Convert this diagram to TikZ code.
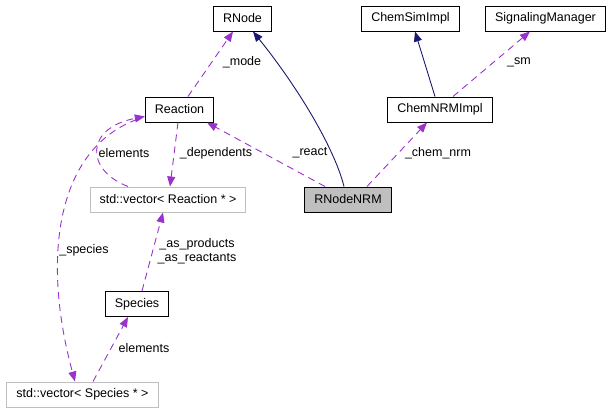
\documentclass[tikz,border=0pt]{standalone}
\usepackage{fontspec}
\setmainfont{Liberation Sans}
\usetikzlibrary{arrows.meta}
\definecolor{edgepurple}{HTML}{9A32CD}
\definecolor{edgenavy}{HTML}{191970}
\definecolor{boxgray}{HTML}{BFBFBF}

\begin{document}
\begin{tikzpicture}[x=1pt,y=-1pt,
  klass/.style={draw=black,line width=1pt,minimum height=25pt,inner xsep=9.5pt,inner ysep=0pt,font=\fontsize{12.5}{14.5}\selectfont},
  tmpl/.style={klass,draw=boxgray},
  usage/.style={draw=edgepurple,line width=0.9pt,dash pattern=on 7pt off 5pt,-{Triangle[length=10pt,width=8pt,fill=edgepurple]}},
  inherit/.style={draw=edgenavy,line width=0.9pt,-{Triangle[length=10pt,width=8pt,fill=edgenavy]}},
  lbl/.style={font=\fontsize{12.5}{14.5}\selectfont,inner sep=0pt,align=center}]
\useasboundingbox (0,0) rectangle (615,413);
\node[klass] (rnode) at (242.5,18.5) {RNode};
\node[klass] (chemsim) at (410.5,18.5) {ChemSimImpl};
\node[klass] (sigman) at (545.5,18.5) {SignalingManager};
\node[klass] (reaction) at (179.5,109.5) {Reaction};
\node[klass] (chemnrm) at (440,109.5) {ChemNRMImpl};
\node[tmpl] (vecreaction) at (168,199.5) {std::vector< Reaction * >};
\node[klass,fill=boxgray] (rnodenrm) at (348,199.5) {RNodeNRM};
\node[klass] (species) at (137,304) {Species};
\node[tmpl] (vecspecies) at (82.5,394.5) {std::vector< Species * >};
\draw[inherit] ([xshift=-4pt]rnodenrm.north) .. controls (335,150) and (300,90) .. ([xshift=10.5pt]rnode.south);
\draw[inherit] ([xshift=-5pt]chemnrm.north) -- ([xshift=4.5pt]chemsim.south);
\draw[usage] ([xshift=13pt]chemnrm.north) -- ([xshift=-15.5pt]sigman.south);
\draw[usage] ([xshift=19pt]rnodenrm.north) -- ([xshift=-13pt]chemnrm.south);
\draw[usage] ([xshift=-23pt]rnodenrm.north) -- ([xshift=27.5pt]reaction.south);
\draw[usage] ([xshift=8.5pt]reaction.north) -- ([xshift=-9.5pt]rnode.south);
\draw[usage] ([xshift=-1.5pt]reaction.south) -- ([xshift=2pt]vecreaction.north);
\draw[usage] ([xshift=-40pt]vecreaction.north) .. controls (85,170) and (85,128) .. ([yshift=6pt]reaction.south west);
\draw[usage] ([xshift=-8pt,yshift=3pt]reaction.south west) .. controls (55,150) and (42,260) .. ([xshift=-7.5pt]vecspecies.north);
\draw[usage] ([xshift=5pt]species.north) -- ([xshift=-5pt]vecreaction.south);
\draw[usage] ([xshift=10.5pt]vecspecies.north) -- ([xshift=-9pt]species.south);
\node[lbl] (lmode) at (242,62) {\_mode};
\node[lbl] (lsm) at (519,62) {\_sm};
\node[lbl] (lelemr) at (124,153) {elements};
\node[lbl] (ldep) at (216,153) {\_dependents};
\node[lbl] (lreact) at (310,153) {\_react};
\node[lbl] (lchem) at (438,153) {\_chem\_nrm};
\node[lbl] (lspecies) at (84,250) {\_species};
\node[lbl] (lasprod) at (197,251) {\_as\_products\\\_as\_reactants};
\node[lbl] (lelems) at (144,348) {elements};
\end{tikzpicture}
\end{document}
